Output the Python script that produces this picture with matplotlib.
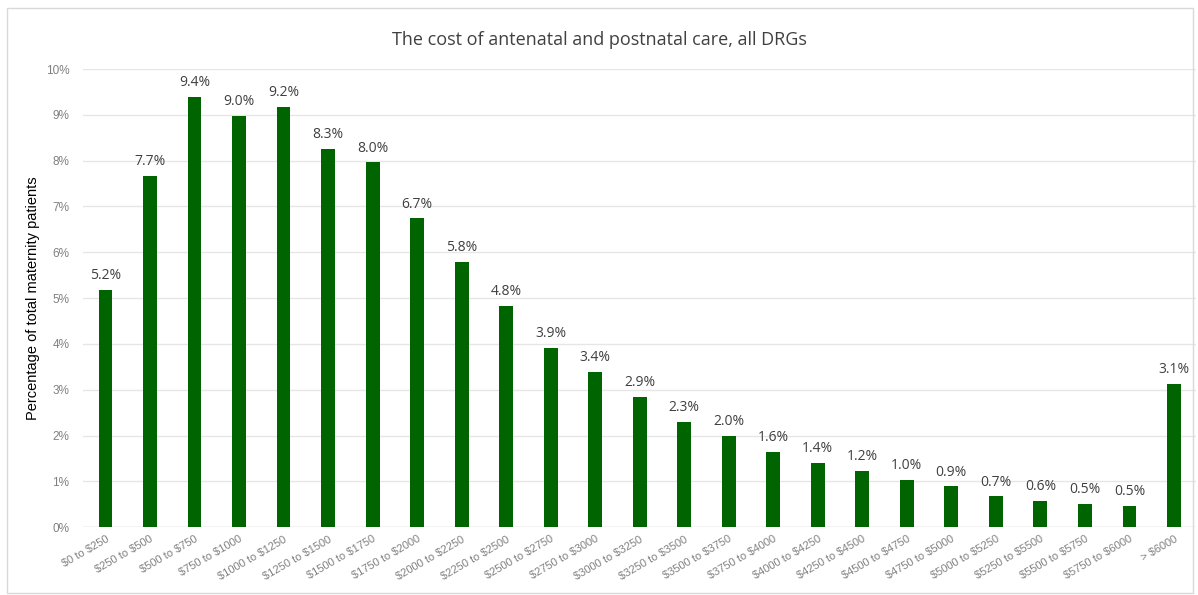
import matplotlib.pyplot as plt
from matplotlib.patches import Rectangle

plt.rcParams['text.parse_math'] = False

# cost bins and share of maternity patients (%)
bins = ['$0 to $250', '$250 to $500', '$500 to $750', '$750 to $1000',
        '$1000 to $1250', '$1250 to $1500', '$1500 to $1750', '$1750 to $2000',
        '$2000 to $2250', '$2250 to $2500', '$2500 to $2750', '$2750 to $3000',
        '$3000 to $3250', '$3250 to $3500', '$3500 to $3750', '$3750 to $4000',
        '$4000 to $4250', '$4250 to $4500', '$4500 to $4750', '$4750 to $5000',
        '$5000 to $5250', '$5250 to $5500', '$5500 to $5750', '$5750 to $6000',
        '> $6000']
share = [5.17, 7.67, 9.40, 8.98, 9.17, 8.26, 7.96, 6.74, 5.79, 4.83, 3.91, 3.38,
         2.85, 2.30, 1.99, 1.64, 1.40, 1.22, 1.03, 0.89, 0.67, 0.58, 0.51, 0.46,
         3.12]
yticks = list(range(0, 11))

fig = plt.figure(figsize=(11.98, 5.95), dpi=100)
fig.patches.append(Rectangle((0.006, 0.004), 0.99, 0.982, transform=fig.transFigure,
                             fill=False, edgecolor='#d9d9d9', linewidth=1))
ax = fig.add_axes([0.0695, 0.114, 0.929, 0.77])

x = range(len(bins))
ax.bar(x, share, width=0.31, color='#006400', zorder=3)
for i, v in zip(x, share):
    ax.text(i, v + 0.15, '%.1f%%' % v, ha='center', va='bottom',
            fontsize=10, color='#404040', family='Open Sans')

ax.set_xlim(-0.5, len(bins) - 0.5)
ax.set_ylim(0, 10)
ax.set_yticks(yticks)
ax.set_yticklabels(['%d%%' % t for t in yticks], fontsize=8.5, color='#808080',
                   family='Liberation Sans')
ax.set_xticks(list(x))
ax.set_xticklabels(bins, rotation=30, ha='right', va='top', rotation_mode='anchor',
                   fontsize=8, color='#808080', family='Liberation Sans')
ax.tick_params(axis='y', length=0, pad=10)
ax.tick_params(axis='x', length=0, pad=5)
ax.grid(axis='y', color='#e6e6e6', linewidth=1, zorder=0)
for s in ax.spines.values():
    s.set_visible(False)
ax.axhline(0, color='#d9d9d9', linewidth=1, zorder=2)

ax.set_ylabel('Percentage of total maternity patients', fontsize=10.5,
              family='Liberation Sans', labelpad=4)
fig.text(0.5, 0.932, 'The cost of antenatal and postnatal care, all DRGs',
         ha='center', va='center', fontsize=13, color='#404040', family='Open Sans')

fig.savefig('out.png')
